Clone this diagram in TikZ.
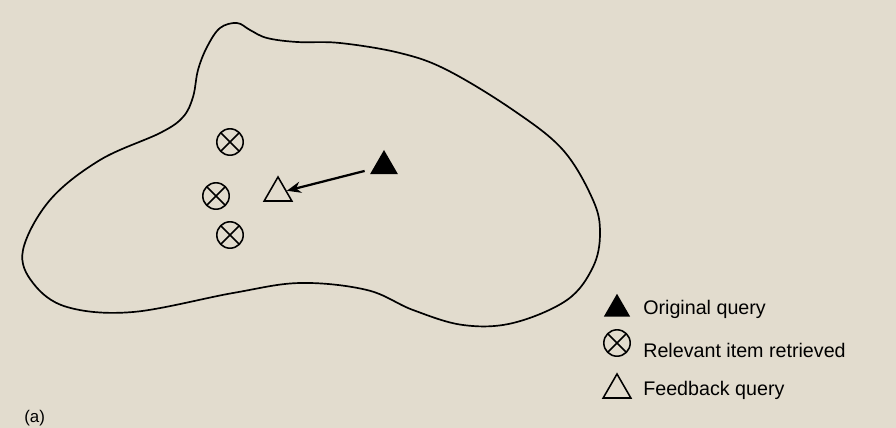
\documentclass[tikz,border=0pt]{standalone}
\usepackage{fontspec}
\setmainfont{Liberation Sans}
\usetikzlibrary{shapes.geometric,arrows.meta,positioning}
\definecolor{paper}{RGB}{226,220,206}

\tikzset{
    relitem/.style={circle, draw=black, line width=1.1pt, fill=paper, minimum size=0.66cm, inner sep=0pt,
        path picture={\draw[line width=1.1pt] (path picture bounding box.north west) -- (path picture bounding box.south east)
                                   (path picture bounding box.north east) -- (path picture bounding box.south west);}},
    origq/.style={regular polygon, regular polygon sides=3, fill=black, minimum size=0.8cm, inner sep=0pt},
    fbq/.style={regular polygon, regular polygon sides=3, draw=black, line width=1.1pt, minimum size=0.8cm, inner sep=0pt},
    legtext/.style={font=\fontsize{14}{16}\selectfont, inner sep=0pt, anchor=base west}
}

\begin{document}
\begin{tikzpicture}[x=0.025cm, y=-0.025cm]
        \fill[paper] (0,0) rectangle (896,428);
        \useasboundingbox (0,0) rectangle (896,428);
        % region of the document space
        \draw[line width=1.2pt] plot[smooth cycle, tension=0.6] coordinates {
            (237,23) (250,30) (267,38) (297,42) (340,43) (400,53) (447,70) (513,110) (563,150)
            (593,200) (600,233) (593,267) (567,300) (513,323) (463,325) (413,310) (367,290)
            (300,283) (233,293) (133,312) (67,307) (33,283) (23,250) (50,200) (100,160)
            (160,133) (183,117) (193,97) (198,70) (207,47) (220,28)};
        \node (r1) [relitem] at (230,142) {};
        \node (r2) [relitem] at (216,196) {};
        \node (r3) [relitem] at (230,235) {};
        \node (orig) [origq] at (384,166) {};
        \node (fb) [fbq] at (278,193) {};
        \draw[-{Stealth[length=10pt,width=8pt]}, line width=1.6pt, shorten <=6pt] (orig) -- (fb);
        % legend
        \node (lorig) [origq, minimum size=0.76cm] at (617,309) {};
        \node (lrel) [relitem] at (617,343) {};
        \node (lfb) [fbq] at (617,390) {};
        \node (torig) [below right=0.125cm and 0.65cm of lorig.center, legtext] {Original query};
        \node (trel) [below right=0.35cm and 0.65cm of lrel.center, legtext] {Relevant item retrieved};
        \node (tfb) [below right=0.125cm and 0.65cm of lfb.center, legtext] {Feedback query};
        \node (cap) [anchor=south west, inner sep=0pt, font=\fontsize{12}{14}\selectfont] at (24,426) {(a)};
\end{tikzpicture}
\end{document}
